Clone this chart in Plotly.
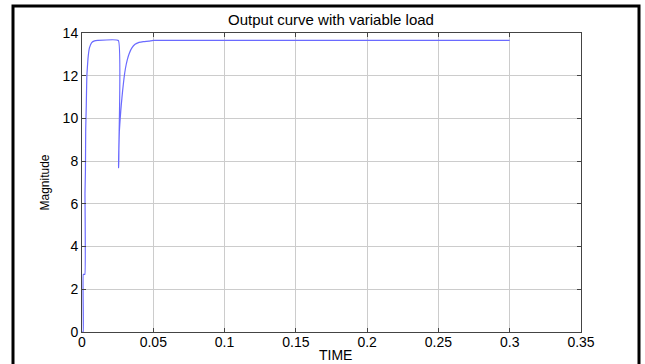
import plotly.graph_objects as go

# Data
time = [0.0, 0.0008, 0.0009, 0.0020, 0.0021, 0.0024, 0.0026, 0.0030, 0.0034, 0.0042,
        0.0052, 0.0068, 0.0088, 0.0110, 0.0255, 0.0256, 0.0257, 0.0259, 0.0262, 0.0268,
        0.0275, 0.0285, 0.0295, 0.0305, 0.0318, 0.0332, 0.0350, 0.0372, 0.0400, 0.0430,
        0.0470, 0.0500, 0.3000]
magnitude = [0.0, 0.0, 2.7, 2.7, 6.5, 7.5, 9.5, 10.6, 12.0, 12.8,
             13.3, 13.55, 13.63, 13.65, 13.65, 7.7, 7.7, 8.6, 9.4, 10.0,
             10.6, 11.3, 11.9, 12.35, 12.75, 13.05, 13.3, 13.47, 13.56, 13.6,
             13.62, 13.65, 13.65]

x_ticks = [0, 0.05, 0.1, 0.15, 0.2, 0.25, 0.3, 0.35]
x_tick_labels = ["0", "0.05", "0.1", "0.15", "0.2", "0.25", "0.3", "0.35"]
y_ticks = [0, 2, 4, 6, 8, 10, 12, 14]

W, H = 645, 364
L, R, T, B = 82, 64, 33, 32
pw, ph = W - L - R, H - T - B

font = "Liberation Sans, Arial, sans-serif"

fig = go.Figure()
fig.add_trace(go.Scatter(x=time, y=magnitude, mode="lines",
                         line=dict(color="#6a6aff", width=1.2, shape="spline", smoothing=0.3),
                         showlegend=False, hoverinfo="skip"))

axis_common = dict(showgrid=True, gridcolor="#cccccc", gridwidth=1,
                   showline=True, linecolor="#444444", linewidth=1, mirror="allticks",
                   ticks="inside", ticklen=4, tickcolor="#444444", automargin=False,
                   zeroline=False, tickfont=dict(family=font, size=14, color="black"))

fig.update_xaxes(range=[0, 0.35], tickvals=x_ticks, ticktext=x_tick_labels,
                 ticklabelstandoff=-3, **axis_common)
fig.update_yaxes(range=[0, 14], tickvals=y_ticks,
                 title=dict(text="Magnitude", font=dict(family=font, size=12, color="black"), standoff=10),
                 **axis_common)

def px_to_paper_x(px):
    return (px - L) / pw

def py_to_paper_y(py):
    return (H - B - py) / ph

fig.add_annotation(text="TIME", xref="paper", yref="paper",
                   x=px_to_paper_x(335), y=py_to_paper_y(355),
                   xanchor="center", yanchor="middle", showarrow=False,
                   font=dict(family=font, size=14, color="black"))

fig.add_shape(type="rect", xref="paper", yref="paper",
              x0=px_to_paper_x(13), x1=px_to_paper_x(639),
              y0=py_to_paper_y(368), y1=py_to_paper_y(6),
              line=dict(color="black", width=3), fillcolor="rgba(0,0,0,0)", layer="above")

fig.update_layout(
    width=W, height=H,
    margin=dict(l=L, r=R, t=T, b=B),
    paper_bgcolor="white", plot_bgcolor="white",
    title=dict(text="Output curve with variable load", x=331 / W, xanchor="center",
               y=1 - 20 / H, yanchor="middle",
               font=dict(family=font, size=15, color="black")),
)

fig.write_html("out.html")
